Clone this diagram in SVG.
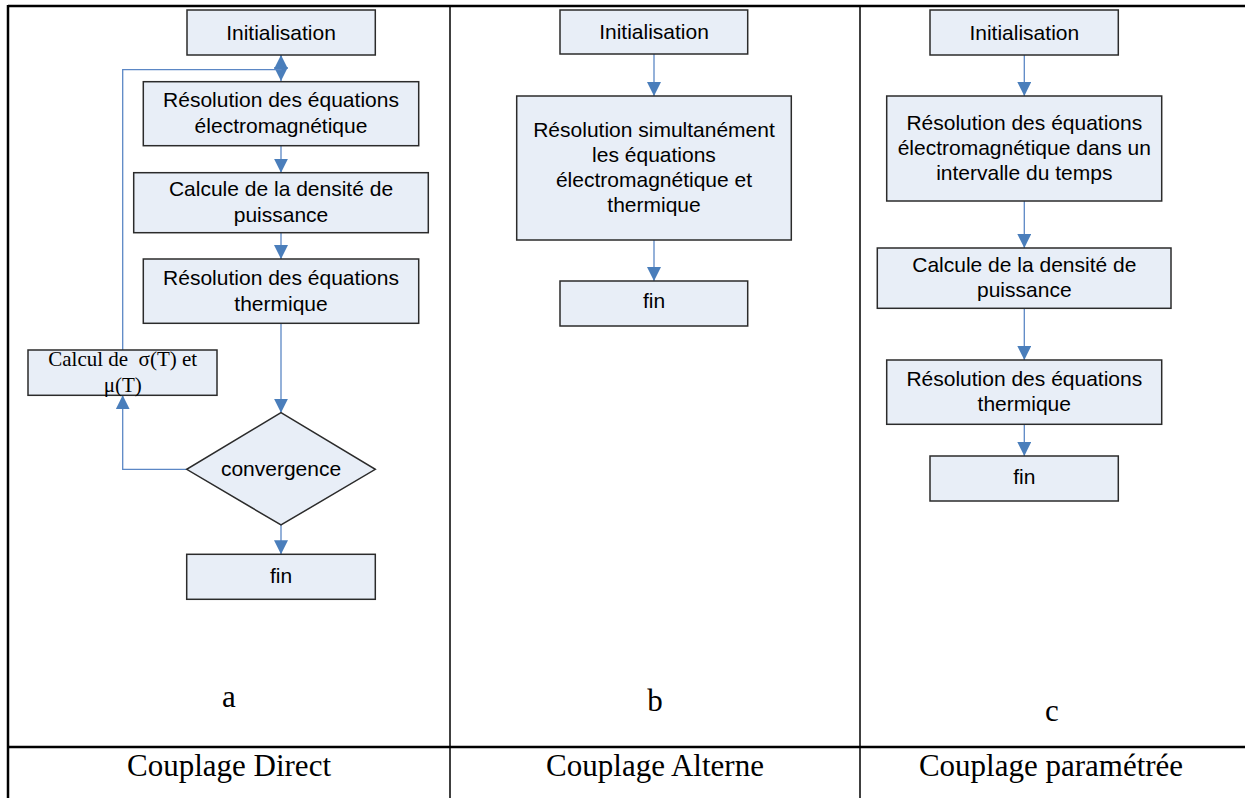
<svg xmlns="http://www.w3.org/2000/svg" width="1245" height="798" viewBox="0 0 1245 798">
<style>
.box{fill:#e8eef7;stroke:#2b2b2b;stroke-width:1.5}
.t{font-family:"Liberation Sans",Arial,sans-serif;font-size:21px;fill:#000;text-anchor:middle}
.s{font-family:"Liberation Serif","Times New Roman",serif;font-size:21px;fill:#000;text-anchor:middle}
.cap{font-family:"Liberation Serif","Times New Roman",serif;font-size:31px;fill:#000;text-anchor:middle}
.c{fill:none;stroke:#5b87c5;stroke-width:1.3}
.grid{stroke:#000;fill:none}
</style>
<defs>
<marker id="ar" markerUnits="userSpaceOnUse" markerWidth="16" markerHeight="14" refX="14" refY="7" orient="auto">
<path d="M0,0 L14,7 L0,14 Z" fill="#4a7ebb"/>
</marker>
</defs>
<rect width="1245" height="798" fill="#fff"/>
<g id="table">
<line class="grid" x1="8" y1="6" x2="1245" y2="6" stroke-width="2.5"/>
<line class="grid" x1="8" y1="5" x2="8" y2="798" stroke-width="2.5"/>
<line class="grid" x1="450" y1="6" x2="450" y2="798" stroke-width="1.5"/>
<line class="grid" x1="860" y1="6" x2="860" y2="798" stroke-width="1.5"/>
<line class="grid" x1="8" y1="747" x2="1245" y2="747" stroke-width="2.5"/>
</g>
<g id="connectors">
<path class="c" d="M281,55 V81" marker-end="url(#ar)"/>
<path class="c" d="M122.7,350 V69.7 H281 V55" marker-end="url(#ar)"/>
<path class="c" d="M281,145.7 V172.7" marker-end="url(#ar)"/>
<path class="c" d="M281,232.7 V259" marker-end="url(#ar)"/>
<path class="c" d="M281,323.3 V412.7" marker-end="url(#ar)"/>
<path class="c" d="M186.7,469.3 H122.7 V395.3" marker-end="url(#ar)"/>
<path class="c" d="M281,525 V554.3" marker-end="url(#ar)"/>
<path class="c" d="M654,54 V96" marker-end="url(#ar)"/>
<path class="c" d="M654,240 V281" marker-end="url(#ar)"/>
<path class="c" d="M1024.3,55 V96" marker-end="url(#ar)"/>
<path class="c" d="M1024.3,201 V248" marker-end="url(#ar)"/>
<path class="c" d="M1024.3,308.3 V360" marker-end="url(#ar)"/>
<path class="c" d="M1024.3,424.3 V456" marker-end="url(#ar)"/>
</g>
<g id="a-init"><rect class="box" x="187" y="10" width="188.3" height="45"/><text class="t" x="281" y="39.5">Initialisation</text></g>
<g id="a-em"><rect class="box" x="143.3" y="81.7" width="275.4" height="64"/><text class="t" x="281" y="107.3">Résolution des équations</text><text class="t" x="281" y="132.5">électromagnétique</text></g>
<g id="a-dens"><rect class="box" x="133.7" y="172.7" width="294.6" height="60"/><text class="t" x="281" y="196">Calcule de la densité de</text><text class="t" x="281" y="221.7">puissance</text></g>
<g id="a-th"><rect class="box" x="143.3" y="259" width="275.4" height="64.3"/><text class="t" x="281" y="285">Résolution des équations</text><text class="t" x="281" y="310.5">thermique</text></g>
<g id="a-calc"><rect class="box" x="28" y="350" width="189" height="45.3"/><text class="s" x="122.7" y="365.7" xml:space="preserve">Calcul de  σ(T) et</text><text class="s" x="122.7" y="391.5">μ(T)</text></g>
<g id="a-conv"><polygon class="box" points="281,412.7 375.3,469.3 281,525 186.7,469.3"/><text class="t" x="281" y="476">convergence</text></g>
<g id="a-fin"><rect class="box" x="186.7" y="554.3" width="188.6" height="45"/><text class="t" x="281" y="583.3">fin</text></g>
<g id="b-init"><rect class="box" x="560" y="10" width="187.7" height="44"/><text class="t" x="654" y="39.3">Initialisation</text></g>
<g id="b-sim"><rect class="box" x="516.7" y="96" width="274.6" height="144"/><text class="t" x="654" y="136.7">Résolution simultanément</text><text class="t" x="654" y="161.7">les équations</text><text class="t" x="654" y="186.5">électromagnétique et</text><text class="t" x="654" y="211.7">thermique</text></g>
<g id="b-fin"><rect class="box" x="560" y="281" width="187.7" height="45"/><text class="t" x="654" y="308.3">fin</text></g>
<g id="c-init"><rect class="box" x="930" y="10" width="188.3" height="45"/><text class="t" x="1024.3" y="39.5">Initialisation</text></g>
<g id="c-em"><rect class="box" x="886.7" y="96" width="275" height="105"/><text class="t" x="1024.3" y="129.5">Résolution des équations</text><text class="t" x="1024.3" y="155">électromagnétique dans un</text><text class="t" x="1024.3" y="180">intervalle du temps</text></g>
<g id="c-dens"><rect class="box" x="877.3" y="248" width="293.7" height="60.3"/><text class="t" x="1024.3" y="272.3">Calcule de la densité de</text><text class="t" x="1024.3" y="296.7">puissance</text></g>
<g id="c-th"><rect class="box" x="886.7" y="360" width="275" height="64.3"/><text class="t" x="1024.3" y="386">Résolution des équations</text><text class="t" x="1024.3" y="411">thermique</text></g>
<g id="c-fin"><rect class="box" x="930" y="456" width="188.3" height="45"/><text class="t" x="1024.3" y="484.3">fin</text></g>
<g id="labels">
<text class="cap" x="229" y="707">a</text>
<text class="cap" x="655" y="710.5">b</text>
<text class="cap" x="1052" y="720.5">c</text>
<text class="cap" x="229" y="776">Couplage Direct</text>
<text class="cap" x="655" y="776">Couplage Alterne</text>
<text class="cap" x="1051" y="776">Couplage paramétrée</text>
</g>
</svg>
